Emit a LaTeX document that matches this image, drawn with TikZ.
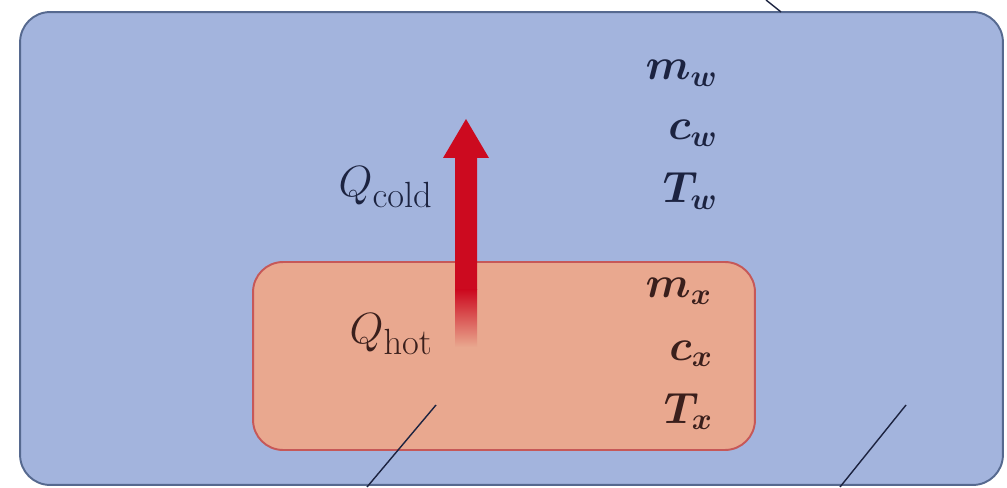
\documentclass[tikz,border=0pt]{standalone}
\usepackage{amsmath,bm}
\usepackage{tikz}
\usetikzlibrary{positioning}

\definecolor{waterblue}{HTML}{A3B4DD}
\definecolor{waterline}{HTML}{56698F}
\definecolor{hotpink}{HTML}{E9A88F}
\definecolor{hotline}{HTML}{C65858}
\definecolor{heatred}{HTML}{CC0A1F}
\definecolor{inkblue}{HTML}{1C2340}
\definecolor{inkbrown}{HTML}{3A1F1C}

\begin{document}
\begin{tikzpicture}[
    x=0.02cm, y=0.02cm,
    waterbox/.style={
        rectangle, draw=waterline, fill=waterblue, line width=1.1pt,
        rounded corners=0.6cm, minimum width=19.66cm, minimum height=9.46cm
    },
    hotbox/.style={
        rectangle, draw=hotline, fill=hotpink, line width=1.1pt,
        rounded corners=0.6cm, minimum width=10.04cm, minimum height=3.76cm
    },
    quantity/.style={inner sep=0pt, anchor=base east, font=\fontsize{26}{31}\selectfont},
    heatlabel/.style={quantity, font=\fontsize{32}{38}\selectfont},
    leader/.style={draw=inkblue, line width=0.8pt}
]
    \useasboundingbox (0,0) rectangle (1007,487);

    % containers
    \node[waterbox] (water) at (511.5,238.5) {};
    \node[hotbox] (sample) at (504,131) {};

    % heat flow arrow
    \coordinate (tail) at (466,140);
    \coordinate (tip) at (466,368);
    \fill[heatred] (455,197) -- (455,329) -- (443,329) -- (tip) -- (489,329)
        -- (477,329) -- (477,197) -- cycle;
    \shade[top color=heatred, bottom color=hotpink] (455,197) rectangle (477,140);

    % labels
    \node[heatlabel, text=inkblue] (qcold) at (433,290) {$Q_{\mathrm{cold}}$};
    \node[heatlabel, text=inkbrown] (qhot) at (433,143) {$Q_{\mathrm{hot}}$};

    \node[quantity, text=inkblue] (mw) at (718,407) {$\bm{m}_{\bm{w}}$};
    \node[quantity, text=inkblue] (cw) at (718,347) {$\bm{c}_{\bm{w}}$};
    \node[quantity, text=inkblue] (Tw) at (718,284) {$\bm{T}_{\bm{w}}$};
    \node[quantity, text=inkbrown] (mx) at (712,189) {$\bm{m}_{\bm{x}}$};
    \node[quantity, text=inkbrown] (cx) at (713,127) {$\bm{c}_{\bm{x}}$};
    \node[quantity, text=inkbrown] (Tx) at (713,64) {$\bm{T}_{\bm{x}}$};

    % leader lines
    \coordinate (hotend) at (436,82);
    \coordinate (hotout) at (367,0);
    \coordinate (waterend) at (906,82);
    \coordinate (waterout) at (840,0);
    \coordinate (topend) at (781,475);
    \coordinate (topout) at (766,487);
    \draw[leader] (hotend) -- (hotout);
    \draw[leader] (waterend) -- (waterout);
    \draw[leader] (topend) -- (topout);
\end{tikzpicture}
\end{document}
